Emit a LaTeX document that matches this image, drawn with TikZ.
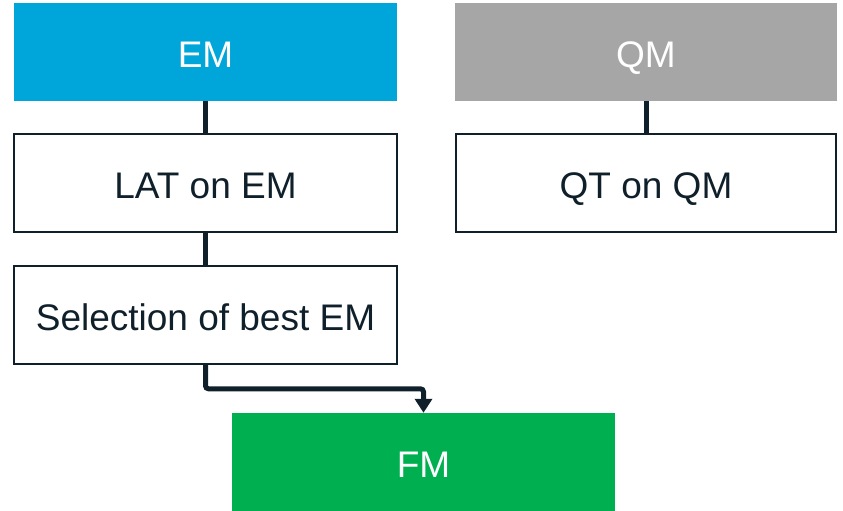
\documentclass[tikz,border=0pt]{standalone}
\usepackage{fontspec}
\setmainfont{Liberation Sans}
\usetikzlibrary{arrows.meta}
\definecolor{emblue}{HTML}{00A6D9}
\definecolor{qmgray}{HTML}{A6A6A6}
\definecolor{fmgreen}{HTML}{00B050}
\definecolor{inkdark}{HTML}{0F202B}
\tikzset{
    stagebox/.style={minimum width=383pt, minimum height=98pt, inner sep=0pt,
        text height=31pt, text depth=0pt,
        font=\fontsize{37}{44}\selectfont},
    solidbox/.style={stagebox, text=white, draw=none},
    testbox/.style={stagebox, fill=white, draw=inkdark, line width=1.6pt, text=inkdark},
    link/.style={draw=inkdark, line width=5pt}
}
\begin{document}
\begin{tikzpicture}[x=1pt, y=-1pt]
        \useasboundingbox (0,0) rectangle (843,511);

        \node[solidbox, fill=emblue] (em) at (205.5, 52) {EM};
        \node[solidbox, fill=qmgray, minimum width=382pt] (qm) at (646, 52) {QM};

        \node[testbox] (lat) at (205.5, 183) {LAT on EM};
        \node[testbox, minimum width=380pt] (qt) at (646, 183) {QT on QM};

        \node[testbox] (sel) at (205.5, 315) {Selection of best EM};

        \node[solidbox, fill=fmgreen] (fm) at (423.5, 462) {FM};

        \draw[link] (em.south) -- (lat.north);
        \draw[link] (qm.south) -- (qt.north);
        \draw[link] (lat.south) -- (sel.north);
        \draw[link, rounded corners=3pt, -{Triangle[width=17pt,length=14pt]}]
            (sel.south) -- ++(0,24) -| (fm.north);

    \end{tikzpicture}
\end{document}
